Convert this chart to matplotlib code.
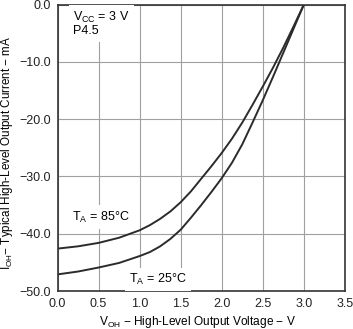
import numpy as np
import matplotlib.pyplot as plt

plt.rcParams['font.family'] = ['Liberation Sans', 'DejaVu Sans']
plt.rcParams['font.size'] = 9

# values
v_85 = [0.0, 0.25, 0.5, 0.75, 1.0, 1.125, 1.25, 1.375, 1.5, 1.625, 1.75, 1.875,
        2.0, 2.125, 2.25, 2.375, 2.5, 2.625, 2.75, 2.875, 3.0]
i_85 = [-42.6, -42.2, -41.6, -40.7, -39.4, -38.5, -37.4, -36.1, -34.5, -32.6, -30.4, -28.2,
        -25.9, -23.4, -20.6, -17.5, -14.3, -11.0, -7.5, -3.8, 0.0]

v_25 = [0.0, 0.25, 0.5, 0.75, 1.0, 1.125, 1.25, 1.375, 1.5, 1.625, 1.75, 1.875,
        2.0, 2.125, 2.25, 2.375, 2.5, 2.625, 2.75, 2.875, 3.0]
i_25 = [-47.1, -46.6, -45.9, -45.1, -43.9, -43.2, -42.2, -40.9, -39.3, -37.2, -35.0, -32.7,
        -30.3, -27.6, -24.4, -20.6, -16.7, -12.6, -8.4, -4.2, 0.0]

xticks = np.arange(0, 3.51, 0.5)
yticks = np.arange(-50, 0.1, 10)

fig = plt.figure(figsize=(3.53, 3.29), dpi=100)
ax = fig.add_axes([0.163, 0.1155, 0.814, 0.8705])

ax.plot(v_85, i_85, color='#2b2b2b', lw=1.4)
ax.plot(v_25, i_25, color='#2b2b2b', lw=1.4)

ax.set_xlim(0, 3.5)
ax.set_ylim(-50, 0)
ax.set_xticks(xticks)
ax.set_yticks(yticks)
ax.set_xticklabels(['%.1f' % x for x in xticks])
ax.set_yticklabels(['\u2212%.1f' % abs(y) if y != 0 else '0.0' for y in yticks])
ax.tick_params(length=0, pad=5, colors='#222222')
ax.grid(True, color='#a0a0a0', lw=0.8)
ax.set_axisbelow(True)
for s in ax.spines.values():
    s.set_color('#333333')
    s.set_linewidth(1.2)

box = dict(facecolor='white', edgecolor='none', pad=3)
ax.text(0.19, -1.0, 'V$_{\\mathregular{CC}}$ = 3 V\nP4.5', va='top', ha='left', bbox=box,
        linespacing=1.0)
ax.text(0.18, -37.1, 'T$_{\\mathregular{A}}$ = 85\u00b0C', va='center', ha='left', bbox=box)
ax.text(0.87, -48.0, 'T$_{\\mathregular{A}}$ = 25\u00b0C', va='center', ha='left', bbox=box)

fig.text(0.561, 0.02, 'V$_{\\mathregular{OH}}$ \u2212 High-Level Output Voltage \u2212 V',
         ha='center', va='center', fontsize=8.6)
fig.text(0.02, 0.535, 'I$_{\\mathregular{OH}}$\u2212 Typical High-Level Output Current \u2212 mA',
         ha='center', va='center', rotation=90, fontsize=8.4)

fig.savefig('out.png', dpi=100)
